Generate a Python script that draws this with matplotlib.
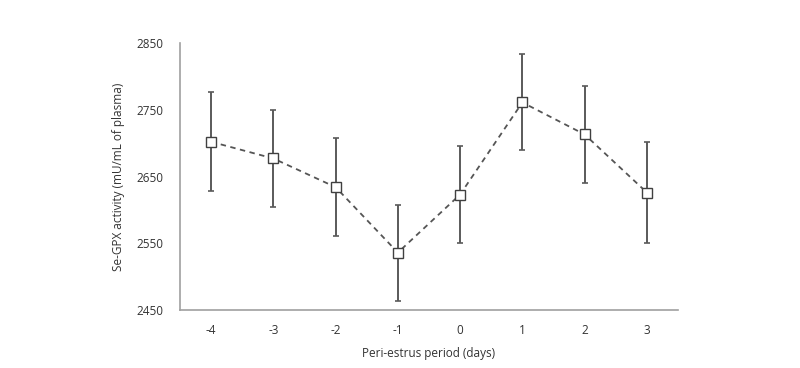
import matplotlib
matplotlib.use("Agg")
import matplotlib.pyplot as plt
import numpy as np

plt.rcParams["font.family"] = ["Open Sans", "DejaVu Sans"]

days = ["-4", "-3", "-2", "-1", "0", "1", "2", "3"]
gpx_mean = [2702, 2677, 2634, 2536, 2623, 2761, 2713, 2626]
gpx_err = [74, 72, 73, 72, 72, 72, 72, 75]

fig = plt.figure(figsize=(8, 3.68), dpi=100)
ax = fig.add_axes([180 / 800, 1 - 310 / 368, 498 / 800, 267 / 368])

x = np.arange(len(days))
ax.errorbar(x, gpx_mean, yerr=gpx_err, fmt="none", ecolor="#5a5a5a",
            elinewidth=1.4, capsize=2.5, capthick=1.2)
ax.plot(x, gpx_mean, linestyle=(0, (3, 2.5)), color="#555555", linewidth=1.3,
        marker="s", markersize=6.5, markerfacecolor="white",
        markeredgecolor="#404040", markeredgewidth=1.0)

ax.set_xlim(-0.5, len(days) - 0.5)
ax.set_ylim(2450, 2850)
ax.set_xticks(x)
ax.set_xticklabels(days)
ax.set_yticks([2450, 2550, 2650, 2750, 2850])
ax.tick_params(axis="both", length=0, labelsize=8.5, colors="#333333")
ax.tick_params(axis="x", pad=10)
ax.tick_params(axis="y", pad=12)

for side in ["top", "right"]:
    ax.spines[side].set_visible(False)
for side in ["left", "bottom"]:
    ax.spines[side].set_color("#a0a0a0")
    ax.spines[side].set_linewidth(1.2)

ax.set_xlabel("Peri-estrus period (days)", fontsize=8.5, color="#333333", labelpad=7)
ax.set_ylabel("Se-GPX activity (mU/mL of plasma)", fontsize=8.5, color="#333333", labelpad=8)

fig.savefig("out.png", dpi=100)
